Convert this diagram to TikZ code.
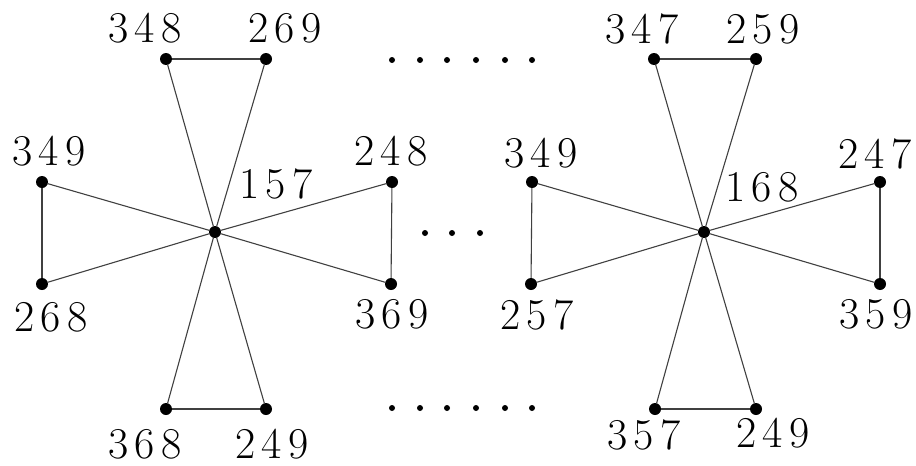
\documentclass[tikz,border=0pt]{standalone}
\newcommand{\tri}[3]{#1\kern6.5pt#2\kern6.5pt#3}
\begin{document}
\begin{tikzpicture}[x=1pt,y=-1pt,
  vtx/.style={circle,fill=black,inner sep=0pt,minimum size=12pt},
  pt/.style={circle,fill=black,inner sep=0pt,minimum size=6pt},
  lab/.style={inner sep=0pt,font=\fontsize{44}{44}\selectfont},
  edge/.style={draw=black!75,line width=1.1pt}]
\useasboundingbox (0,0) rectangle (916,466);
% left star
\node[vtx] (c1) at (215,232) {};
\node[vtx] (a1) at (166,59) {};
\node[vtx] (b1) at (266,59) {};
\node[vtx] (d1) at (42,182) {};
\node[vtx] (e1) at (42,284) {};
\node[vtx] (f1) at (392,182) {};
\node[vtx] (g1) at (391,284) {};
\node[vtx] (h1) at (166,409) {};
\node[vtx] (i1) at (266,409) {};
% right star
\node[vtx] (c2) at (704,232) {};
\node[vtx] (a2) at (654,59) {};
\node[vtx] (b2) at (756,59) {};
\node[vtx] (d2) at (532,182) {};
\node[vtx] (e2) at (531,284) {};
\node[vtx] (f2) at (880,182) {};
\node[vtx] (g2) at (880,284) {};
\node[vtx] (h2) at (655,409) {};
\node[vtx] (i2) at (756,409) {};
\foreach \s in {1,2}{
  \draw[edge] (a\s) -- (b\s);
  \draw[edge] (d\s) -- (e\s);
  \draw[edge] (f\s) -- (g\s);
  \draw[edge] (h\s) -- (i\s);
  \foreach \v in {a,b,d,e,f,g,h,i}{\draw[edge] (c\s) -- (\v\s);}
}
% labels left
\node[lab] (l348) at (145,28) {\tri348};
\node[lab] (l269) at (285,28) {\tri269};
\node[lab] (l349a) at (49,151) {\tri349};
\node[lab] (l157) at (276,184) {\tri157};
\node[lab] (l248) at (391,151) {\tri248};
\node[lab] (l268) at (51,317) {\tri268};
\node[lab] (l369) at (392,314) {\tri369};
\node[lab] (l368) at (145,444) {\tri368};
\node[lab] (l249a) at (272,444) {\tri249};
% labels right
\node[lab] (l347) at (642,29) {\tri347};
\node[lab] (l259) at (763,29) {\tri259};
\node[lab] (l349b) at (541,153) {\tri349};
\node[lab] (l168) at (762,187) {\tri168};
\node[lab] (l247) at (875,154) {\tri247};
\node[lab] (l257) at (537,315) {\tri257};
\node[lab] (l359) at (876,314) {\tri359};
\node[lab] (l357) at (644,435) {\tri357};
\node[lab] (l249b) at (773,433) {\tri249};
% ellipsis dots
\foreach \x [count=\k] in {392,420,447,476,505,532}{
  \node[pt] (t\k) at (\x,60) {};
  \node[pt] (u\k) at (\x,408) {};
}
\foreach \x [count=\k] in {425,452,480}{
  \node[pt] (m\k) at (\x,233) {};
}
\end{tikzpicture}
\end{document}
